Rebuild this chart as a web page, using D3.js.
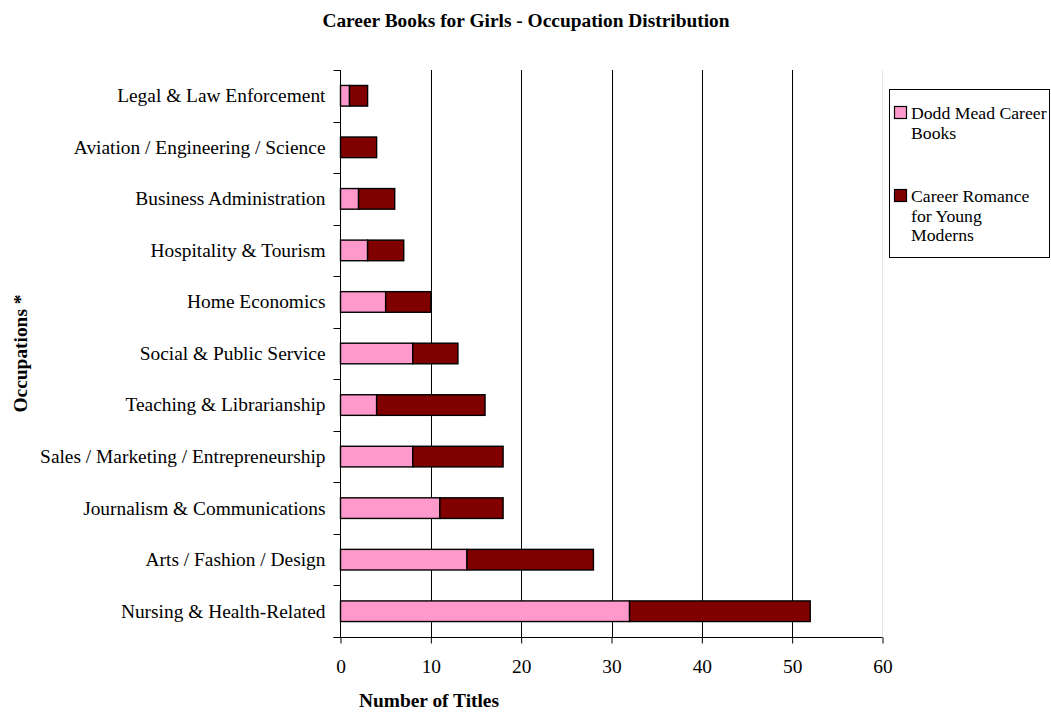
<!DOCTYPE html>
<html>
<head>
<meta charset="utf-8">
<script src="https://cdn.jsdelivr.net/npm/d3@7"></script>
<style>
  html, body { margin: 0; padding: 0; background: #fff; }
  svg { display: block; font-family: "Liberation Serif", "Times New Roman", serif; }
</style>
</head>
<body>
<svg id="chart" width="1051" height="713"></svg>
<script>
// Occupation categories, listed top to bottom
const categories = [
  "Legal & Law Enforcement",
  "Aviation / Engineering / Science",
  "Business Administration",
  "Hospitality & Tourism",
  "Home Economics",
  "Social & Public Service",
  "Teaching & Librarianship",
  "Sales / Marketing / Entrepreneurship",
  "Journalism & Communications",
  "Arts / Fashion / Design",
  "Nursing & Health-Related"
];
// Number of titles per series
const doddMead      = [1, 0, 2, 3, 5, 8, 4, 8, 11, 14, 32];
const careerRomance = [2, 4, 4, 4, 5, 5, 12, 10, 7, 14, 20];
const seriesNames = ["Dodd Mead Career Books", "Career Romance for Young Moderns"];
const seriesColors = ["#FF99CC", "#800000"];
const legendLines = [["Dodd Mead Career", "Books"], ["Career Romance", "for Young", "Moderns"]];
const xTicks = [0, 10, 20, 30, 40, 50, 60];

const svg = d3.select("#chart");
const plot = { left: 340.5, right: 882.5, top: 70, bottom: 637 };
const fontSize = 19.4;

const x = d3.scaleLinear().domain([0, 60]).range([plot.left, plot.right]);
const y = d3.scaleBand().domain(categories).range([plot.top, plot.bottom])
  .paddingInner(0.6).paddingOuter(0.3);

// stacked layout
const rows = categories.map((c, i) => ({ cat: c, s0: doddMead[i], s1: careerRomance[i] }));
const stack = d3.stack().keys(["s0", "s1"])(rows);

// faint right border of plot area
svg.append("line")
  .attr("x1", plot.right).attr("x2", plot.right)
  .attr("y1", plot.top).attr("y2", plot.bottom)
  .attr("stroke", "#e4e4e4").attr("stroke-width", 1);

// vertical gridlines
svg.append("g").selectAll("line")
  .data(xTicks.filter(t => t > 0 && t < 60))
  .join("line")
  .attr("x1", d => Math.round(x(d)) + 0.5).attr("x2", d => Math.round(x(d)) + 0.5)
  .attr("y1", plot.top).attr("y2", plot.bottom)
  .attr("stroke", "#000").attr("stroke-width", 1);

// bars
svg.append("g").selectAll("g")
  .data(stack)
  .join("g")
  .attr("fill", (d, i) => seriesColors[i])
  .selectAll("rect")
  .data(d => d)
  .join("rect")
  .attr("x", d => x(d[0]))
  .attr("y", d => y(d.data.cat))
  .attr("width", d => x(d[1]) - x(d[0]))
  .attr("height", y.bandwidth())
  .attr("stroke", "#000")
  .attr("stroke-width", 1.4)
  .style("display", d => d[1] - d[0] > 0 ? null : "none");

// y axis line and category boundary ticks
const step = y.step();
const yAxis = svg.append("g");
yAxis.append("line")
  .attr("x1", plot.left).attr("x2", plot.left)
  .attr("y1", plot.top).attr("y2", plot.bottom)
  .attr("stroke", "#000");
yAxis.selectAll("line.tick")
  .data(d3.range(categories.length + 1))
  .join("line")
  .attr("class", "tick")
  .attr("x1", plot.left - 7).attr("x2", plot.left)
  .attr("y1", i => Math.round(plot.top + i * step) + 0.5)
  .attr("y2", i => Math.round(plot.top + i * step) + 0.5)
  .attr("stroke", "#000");

// category labels
svg.append("g")
  .attr("transform", `translate(${plot.left},0)`)
  .call(d3.axisLeft(y).tickSize(0).tickPadding(15))
  .call(g => g.select(".domain").remove())
  .call(g => g.selectAll("text")
    .attr("font-family", "Liberation Serif, Times New Roman, serif")
    .attr("font-size", fontSize)
    .attr("fill", "#000")
    .attr("dy", "0.33em"));

// x axis
svg.append("g")
  .attr("transform", `translate(0,${plot.bottom + 0.5})`)
  .call(d3.axisBottom(x).tickValues(xTicks).tickSize(6).tickPadding(16))
  .call(g => g.select(".domain")
    .attr("d", `M${plot.left - 7},0H${plot.right}`)
    .attr("stroke", "#000"))
  .call(g => g.selectAll(".tick line").attr("stroke", "#000"))
  .call(g => g.selectAll("text")
    .attr("font-family", "Liberation Serif, Times New Roman, serif")
    .attr("font-size", fontSize)
    .attr("fill", "#000"));

// title
svg.append("text")
  .attr("x", 526).attr("y", 26.5)
  .attr("text-anchor", "middle")
  .attr("font-size", fontSize).attr("font-weight", "bold")
  .text("Career Books for Girls - Occupation Distribution");

// axis titles
svg.append("text")
  .attr("x", 429).attr("y", 707)
  .attr("text-anchor", "middle")
  .attr("font-size", fontSize).attr("font-weight", "bold")
  .text("Number of Titles");

svg.append("text")
  .attr("transform", `translate(27,${(plot.top + plot.bottom) / 2}) rotate(-90)`)
  .attr("text-anchor", "middle")
  .attr("font-size", fontSize).attr("font-weight", "bold")
  .text("Occupations *");

// legend
const legend = svg.append("g");
legend.append("rect")
  .attr("x", 889.5).attr("y", 89.5)
  .attr("width", 160).attr("height", 168)
  .attr("fill", "#fff").attr("stroke", "#000");

const entryTop = [106.5, 189.5];
seriesNames.forEach((name, i) => {
  const g = legend.append("g").attr("class", "entry").attr("data-name", name);
  g.append("rect")
    .attr("x", 894.5).attr("y", entryTop[i])
    .attr("width", 12).attr("height", 12)
    .attr("fill", seriesColors[i]).attr("stroke", "#000").attr("stroke-width", 1.2);
  g.append("text")
    .attr("x", 911).attr("y", entryTop[i] + 12.5)
    .attr("font-size", 17.7)
    .selectAll("tspan")
    .data(legendLines[i])
    .join("tspan")
    .attr("x", 911)
    .attr("dy", (d, j) => j === 0 ? 0 : 19.5)
    .text(d => d);
});
</script>
</body>
</html>
